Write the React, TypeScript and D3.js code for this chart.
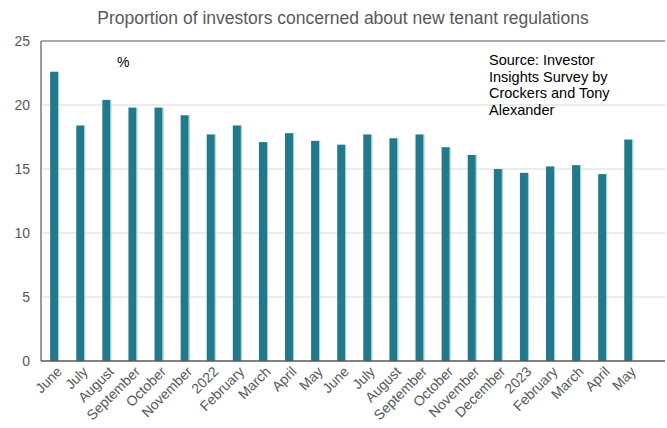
import React, { useEffect, useRef } from "react";
import * as d3 from "d3";

const categories: string[] = [
  "June", "July", "August", "September", "October", "November", "2022",
  "February", "March", "April", "May", "June", "July", "August", "September",
  "October", "November", "December", "2023", "February", "March", "April", "May",
];

const values: number[] = [
  22.6, 18.4, 20.4, 19.8, 19.8, 19.2, 17.7, 18.4, 17.1, 17.8, 17.2, 16.9,
  17.7, 17.4, 17.7, 16.7, 16.1, 15.0, 14.7, 15.2, 15.3, 14.6, 17.3,
];

const yTicks: number[] = [0, 5, 10, 15, 20, 25];

const title = "Proportion of investors concerned about new tenant regulations";
const sourceLines: string[] = [
  "Source: Investor",
  "Insights Survey by",
  "Crockers and Tony",
  "Alexander",
];

const App: React.FC = () => {
  const svgRef = useRef<SVGSVGElement | null>(null);

  useEffect(() => {
    const svg = d3.select(svgRef.current);
    svg.selectAll("*").remove();

    const W = 667;
    const H = 428;
    const margin = { top: 41, right: 2, bottom: 67, left: 41 };
    const plotRight = W - margin.right;
    const bottom = H - margin.bottom;
    const fontFamily = "Arial, 'Liberation Sans', sans-serif";

    svg.append("rect").attr("width", W).attr("height", H).attr("fill", "white");

    const idx = categories.map((_, i) => i);
    // last slot is left empty, like the original
    const x = d3
      .scaleBand<number>()
      .domain(idx)
      .range([margin.left, margin.left + (plotRight - margin.left) * (23 / 23.9)])
      .paddingInner(0.69)
      .paddingOuter(0.35);

    const y = d3.scaleLinear().domain([0, 25]).range([bottom, margin.top]);

    // gridlines
    svg
      .append("g")
      .selectAll("line")
      .data(yTicks.filter((t) => t > 0 && t < 25))
      .enter()
      .append("line")
      .attr("x1", margin.left)
      .attr("x2", plotRight)
      .attr("y1", (d) => y(d))
      .attr("y2", (d) => y(d))
      .attr("stroke", "#d9d9d9")
      .attr("stroke-width", 1);

    // top border
    svg
      .append("line")
      .attr("x1", margin.left)
      .attr("x2", plotRight)
      .attr("y1", y(25))
      .attr("y2", y(25))
      .attr("stroke", "#595959")
      .attr("stroke-width", 1.2);

    // bars
    svg
      .append("g")
      .selectAll("rect")
      .data(values)
      .enter()
      .append("rect")
      .attr("x", (_, i) => x(i)!)
      .attr("y", (d) => y(d))
      .attr("width", x.bandwidth())
      .attr("height", (d) => bottom - y(d))
      .attr("fill", "#217a8b");

    svg
      .append("g")
      .selectAll("line")
      .data(values)
      .enter()
      .append("line")
      .attr("x1", (_, i) => x(i)! + x.bandwidth() + 0.5)
      .attr("x2", (_, i) => x(i)! + x.bandwidth() + 0.5)
      .attr("y1", (d) => y(d))
      .attr("y2", bottom)
      .attr("stroke", "#9fd0da")
      .attr("stroke-width", 1);

    // left and bottom axis lines
    svg
      .append("line")
      .attr("x1", margin.left)
      .attr("x2", margin.left)
      .attr("y1", y(25))
      .attr("y2", bottom)
      .attr("stroke", "#595959")
      .attr("stroke-width", 1.2);
    svg
      .append("line")
      .attr("x1", margin.left)
      .attr("x2", plotRight)
      .attr("y1", bottom)
      .attr("y2", bottom)
      .attr("stroke", "#595959")
      .attr("stroke-width", 1.4);

    // y tick labels
    svg
      .append("g")
      .selectAll("text")
      .data(yTicks)
      .enter()
      .append("text")
      .attr("x", 30)
      .attr("y", (d) => y(d))
      .attr("dy", "0.36em")
      .attr("text-anchor", "end")
      .attr("fill", "#595959")
      .style("font-family", fontFamily)
      .style("font-size", "14px")
      .text((d) => d);

    // x labels
    svg
      .append("g")
      .selectAll("text")
      .data(categories)
      .enter()
      .append("text")
      .attr(
        "transform",
        (_, i) => `translate(${x(i)! + x.bandwidth() / 2 + 5},${bottom + 8}) rotate(-45)`
      )
      .attr("text-anchor", "end")
      .attr("dy", "0.35em")
      .attr("fill", "#595959")
      .style("font-family", fontFamily)
      .style("font-size", "14px")
      .text((d) => d);

    // title
    svg
      .append("text")
      .attr("x", 343)
      .attr("y", 24)
      .attr("text-anchor", "middle")
      .attr("fill", "#595959")
      .style("font-family", fontFamily)
      .style("font-size", "17.5px")
      .text(title);

    // unit label
    svg
      .append("text")
      .attr("x", 117)
      .attr("y", 67)
      .attr("fill", "#000")
      .style("font-family", fontFamily)
      .style("font-size", "14px")
      .text("%");

    // source note
    svg
      .append("g")
      .selectAll("text")
      .data(sourceLines)
      .enter()
      .append("text")
      .attr("x", 489)
      .attr("y", (_, i) => 65 + i * 16.6)
      .attr("fill", "#000")
      .style("font-family", fontFamily)
      .style("font-size", "14.5px")
      .text((d) => d);
  }, []);

  return (
    <svg
      ref={svgRef}
      width={667}
      height={428}
      style={{ position: "absolute", left: 0, top: 0 }}
    />
  );
};

export default App;
